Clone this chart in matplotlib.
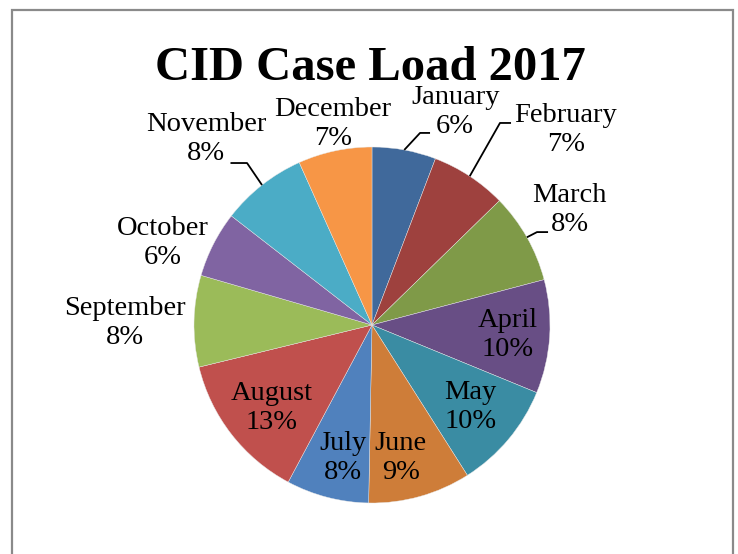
import numpy as np
import matplotlib
matplotlib.use("Agg")
import matplotlib.pyplot as plt
from matplotlib.patches import Rectangle

# data (share of annual case load, %)
months = ['January', 'February', 'March', 'April', 'May', 'June',
          'July', 'August', 'September', 'October', 'November', 'December']
shares = [5.8, 6.9, 8.2, 10.3, 9.8, 9.3, 7.5, 13.4, 8.3, 6.0, 7.8, 6.7]
colors = ['#40699B', '#9E413E', '#7F9A48', '#684E85', '#3A8CA3', '#CE7D39',
          '#5081BD', '#C0504D', '#9BBB59', '#8064A2', '#4BACC6', '#F79646']
title = 'CID Case Load 2017'

# label placement: (angle offset from wedge middle in deg, radius)
label_pos = [(10.9, 1.285), (11.5, 1.546), (-0.7, 1.286), (0.4, 0.766),
             (0.0, 0.72), (3.4, 0.765), (-2.3, 0.765), (-1.9, 0.73),
             (-0.85, 1.388), (-5.6, 1.261), (-3.6, 1.401), (1.0, 1.150)]
# leader lines: month index -> (elbow, end) in pie radius units
leaders = {0: ((0.270, 1.079), (0.326, 1.079)),
           1: ((0.719, 1.135), (0.781, 1.135)),
           2: ((0.927, 0.522), (0.989, 0.522)),
           10: ((-0.702, 0.910), (-0.795, 0.910))}

plt.rcParams['font.family'] = ['Liberation Serif', 'DejaVu Serif']

W, H = 738, 554
cx, cy, R = 372, 325, 178  # pie centre and radius in pixels
fig = plt.figure(figsize=(W / 100, H / 100), dpi=100)
ax = fig.add_axes([0, 0, 1, 1])

wedges, _ = ax.pie(shares, colors=colors, startangle=90, counterclock=False,
                   radius=1.0, wedgeprops=dict(edgecolor='#e8e8e8', linewidth=0.3))

ax.set_aspect('auto')
ax.set_xlim(-cx / R, (W - cx) / R)
ax.set_ylim((cy - H) / R, cy / R)
ax.axis('off')

total = float(sum(shares))
cum = np.cumsum([0] + shares)
for i, m in enumerate(months):
    mid = (cum[i] + shares[i] / 2) / total * 360.0  # clockwise from top
    off, r = label_pos[i]
    a = np.radians(mid + off)
    ax.text(r * np.sin(a), r * np.cos(a), '%s\n%.0f%%' % (m, shares[i] / total * 100),
            ha='center', va='center', fontsize=20.5, linespacing=1.22, color='black')
    if i in leaders:
        am = np.radians(mid)
        (ex, ey), (tx, ty) = leaders[i]
        ax.plot([np.sin(am), ex, tx], [np.cos(am), ey, ty], color='black', lw=1.3,
                solid_capstyle='butt')

fig.text(370 / W, 1 - 80 / H, title, ha='center', va='baseline',
         fontsize=35, fontweight='bold')

# chart area frame (bottom edge runs off the picture)
fig.patches.append(Rectangle((12 / W, -0.1), (733 - 12) / W, 0.1 + (H - 10) / H,
                             transform=fig.transFigure, fill=False,
                             edgecolor='#8a8a8a', linewidth=1.6))

fig.savefig('out.png', dpi=100)
